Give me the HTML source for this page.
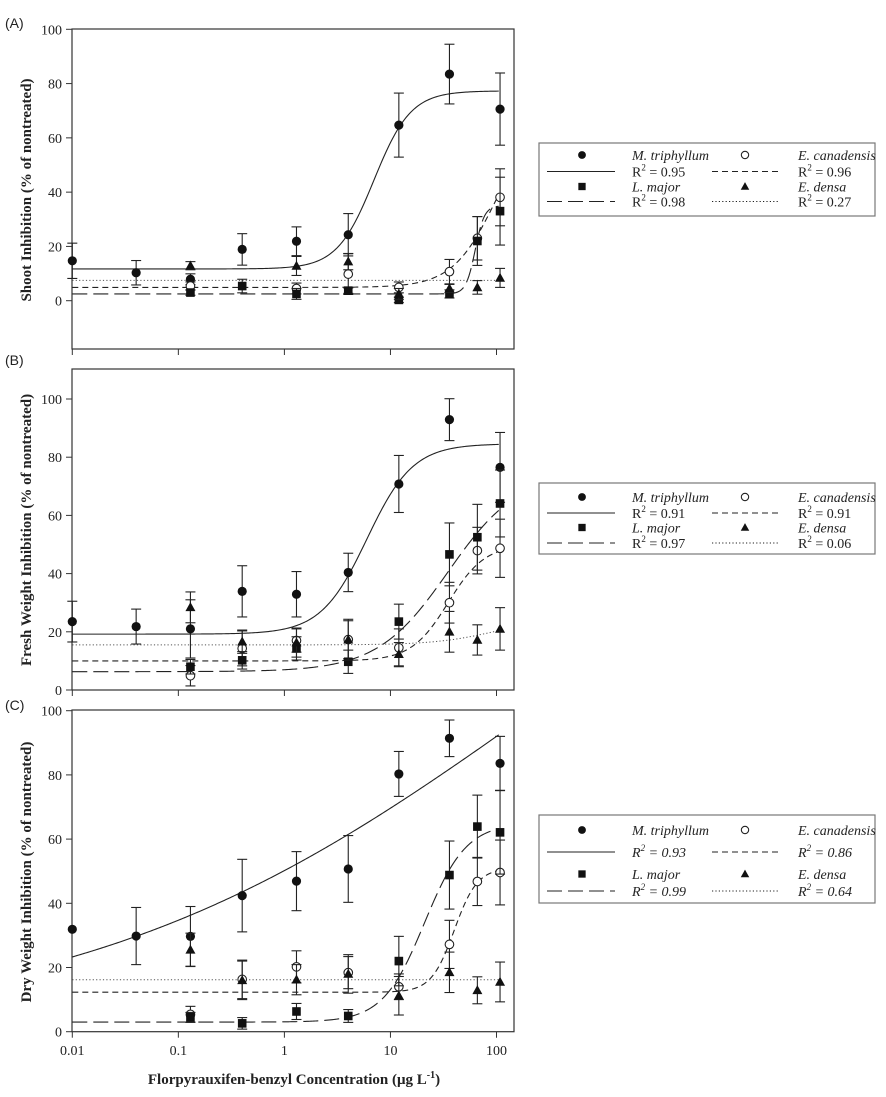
<!DOCTYPE html>
<html><head><meta charset="utf-8"><style>
html,body{margin:0;padding:0;background:#fff;}
svg text{font-family:"Liberation Serif",serif;fill:#222;}
</style></head><body>
<svg id="fig" width="886" height="1092" viewBox="0 0 886 1092" xmlns="http://www.w3.org/2000/svg"></svg>
<script>
// ---- data ----
const conc = [0.01,0.04,0.13,0.4,1.3,4,12,36,66,108];
const xTickVals = [0.01,0.1,1,10,100];
const xTickLabels = ["0.01","0.1","1","10","100"];
const yTickVals = [0,20,40,60,80,100];
const species = ["M. triphyllum","E. canadensis","L. major","E. densa"];

// Panel A (shoot inhibition)
const aMtri = [14.7,10.3,7.9,18.9,21.9,24.3,64.7,83.5,null,70.6];
const aMtriErr = [6.5,4.5,2,5.8,5.3,7.8,11.8,11,null,13.3];
const aEcan = [null,null,5.4,null,4.5,9.8,4.9,10.7,23,38.1];
const aEcanErr = [null,null,1.5,null,2,7.5,2,4.5,8,10.5];
const aLmaj = [null,null,3,5.4,2.5,3.7,0.3,2.5,22,33];
const aLmajErr = [null,null,1,2.5,2,1,1,1.5,9,12.5];
const aEden = [null,null,12.9,null,12.8,14.4,2.5,4.5,4.9,8.4];
const aEdenErr = [null,null,1.5,null,3.5,3,2,1.5,2.5,3.5];
const aFits = [[11.7,77.3,7,2.5],[4.9,70,100,2.1],[2.5,35,63,10],[7.5,7.5,1,1]];
const aR2 = ["0.95","0.96","0.98","0.27"];

// Panel B (fresh weight)
const bMtri = [23.5,21.8,21,33.9,32.9,40.4,70.8,92.9,null,76.5];
const bMtriErr = [7,6,10,8.8,7.8,6.6,9.8,7.2,null,12];
const bEcan = [null,null,4.9,14.3,17,17.3,14.5,30,47.9,48.7];
const bEcanErr = [null,null,3.5,6,4,6.5,6.5,7,8,10];
const bLmaj = [null,null,8,10.2,14.3,9.7,23.5,46.6,52.5,64.1];
const bLmajErr = [null,null,2.5,3,4,4,6,10.8,11.3,11.5];
const bEden = [null,null,28.4,16.6,16.3,17.3,12.3,20,17.2,21];
const bEdenErr = [null,null,5.3,4,5,7,4,7,5.2,7.3];
const bFits = [[19.2,84.6,6,2],[10,50,35,2.5],[6.3,75,35,1.3],[15.5,25,100,1.5]];
const bR2 = ["0.91","0.91","0.97","0.06"];

// Panel C (dry weight)
const cMtri = [31.9,29.8,29.7,42.4,46.9,50.7,80.3,91.4,null,83.6];
const cMtriErr = [0,8.9,9.3,11.3,9.2,10.4,7,5.7,null,8.4];
const cEcan = [null,null,5.4,16.3,20.2,18.4,14,27.2,46.8,49.6];
const cEcanErr = [null,null,2.5,6,5,5,4,7.5,7.5,10.1];
const cLmaj = [null,null,4.5,2.6,6.3,4.9,22,48.8,63.9,62.1];
const cLmajErr = [null,null,1.5,1.8,2.5,2,7.7,10.6,9.8,13];
const cEden = [null,null,25.5,16,16.2,18,11.2,18.5,12.9,15.5];
const cEdenErr = [null,null,5.2,6,4.7,6,6,6.3,4.2,6.2];
const cFits = [[0,200,221,0.2026],[12.3,51,40,4],[3,65,21,2.2],[16.2,16.2,1,1]];
const cR2 = ["0.93","0.86","0.99","0.64"];

// ---- drawing ----
const NS="http://www.w3.org/2000/svg";
const svg=document.getElementById('fig');
function mk(tag,attrs,parent){const e=document.createElementNS(NS,tag);for(const k in attrs)e.setAttribute(k,attrs[k]);(parent||svg).appendChild(e);return e;}
const X0=72.3, XD=106.05;
function xs(c){return X0+(Math.log10(c)+2)*XD;}
function fitY(p,x){return p[0]+(p[1]-p[0])/(1+Math.pow(p[2]/x,p[3]));}
const dashes=["", "6,4", "15,6", "1.2,2.2"];

const panels=[
 {key:"a",label:"(A)",labY:23,top:29,bot:349,y0:300.7,y100:29.3,title:"Shoot Inhibition (% of nontreated)",tY:190,
  series:[[aMtri,aMtriErr],[aEcan,aEcanErr],[aLmaj,aLmajErr],[aEden,aEdenErr]],fits:aFits,r2:aR2,leg:{top:143,bot:216,rows:[155,171.5,186.5,201.5]},italR:false},
 {key:"b",label:"(B)",labY:360,top:369,bot:690,y0:690,y100:399,title:"Fresh Weight Inhibition (% of nontreated)",tY:530,
  series:[[bMtri,bMtriErr],[bEcan,bEcanErr],[bLmaj,bLmajErr],[bEden,bEdenErr]],fits:bFits,r2:bR2,leg:{top:483,bot:554,rows:[497,513,527.5,543]},italR:false},
 {key:"c",label:"(C)",labY:705,top:710,bot:1031.7,y0:1031.7,y100:710.7,title:"Dry Weight Inhibition (% of nontreated)",tY:872,
  series:[[cMtri,cMtriErr],[cEcan,cEcanErr],[cLmaj,cLmajErr],[cEden,cEdenErr]],fits:cFits,r2:cR2,leg:{top:815,bot:903,rows:[830,852,874,891]},italR:true}
];

function marker(g,i,x,y,scale){
  const s=scale||1;let m;
  if(i===0){m=mk('circle',{cx:x,cy:y,r:4.6*s,fill:'#111'},g);}
  else if(i===1){m=mk('circle',{cx:x,cy:y,r:4.3*s,fill:'#fff',stroke:'#222','stroke-width':1.1},g);}
  else if(i===2){m=mk('rect',{x:x-4.3*s,y:y-4.3*s,width:8.6*s,height:8.6*s,fill:'#111'},g);}
  else {m=mk('polygon',{points:`${x},${y-5.2*s} ${x-5*s},${y+3.8*s} ${x+5*s},${y+3.8*s}`,fill:'#111'},g);}
  return m;
}

panels.forEach(P=>{
  const ys=v=>P.y0-v*(P.y0-P.y100)/100;
  const g=mk('g',{});
  
  
  const lab=mk('text',{x:5,y:P.labY+5,'font-size':14,style:'font-family:"Liberation Sans",sans-serif'},g);
  lab.textContent=P.label;
  
  
  const box=mk('rect',{x:72,y:P.top,width:442,height:P.bot-P.top,fill:'none',stroke:'#333','stroke-width':1.2},g);
  
  
  yTickVals.forEach(v=>{
    const y=ys(v);
    mk('line',{x1:66,x2:72,y1:y,y2:y,stroke:'#333','stroke-width':1},g);
    const t=mk('text',{x:62,y:y+5,'font-size':14,'text-anchor':'end'},g);
    t.textContent=v;
    
    
  });
  xTickVals.forEach((v,k)=>{
    const x=xs(v);
    mk('line',{x1:x,x2:x,y1:P.bot,y2:P.bot+6,stroke:'#333','stroke-width':1},g);
    if(P.key==='c'){
      const t=mk('text',{x:x,y:1055,'font-size':14,'text-anchor':'middle'},g);
      t.textContent=xTickLabels[k];
      
      
    }
  });
  const yt=mk('text',{x:0,y:0,'font-size':15,'font-weight':'bold','text-anchor':'middle',transform:`translate(31,${P.tY}) rotate(-90)`},g);
  yt.textContent=P.title;
  
  
  P.fits.forEach((p,i)=>{
    let d="";
    for(let k=0;k<=300;k++){const lx=-2+k*(Math.log10(105)+2)/300;const x=Math.pow(10,lx);
      d+=(k?"L":"M")+xs(x).toFixed(2)+","+ys(fitY(p,x)).toFixed(2);}
    const path=mk('path',{d:d,fill:'none',stroke:i===3?'#555':'#222','stroke-width':i===3?1:1.1,'stroke-dasharray':dashes[i]},g);
    
    
  });
  P.series.forEach((s,i)=>{
    const vals=s[0],errs=s[1];
    vals.forEach((v,k)=>{
      if(v===null)return;
      const x=xs(conc[k]),e=errs[k]||0;
      if(e>0){
        mk('line',{x1:x,x2:x,y1:ys(v-e),y2:ys(v+e),stroke:'#222','stroke-width':1.1},g);
        mk('line',{x1:x-5,x2:x+5,y1:ys(v-e),y2:ys(v-e),stroke:'#222','stroke-width':1.1},g);
        mk('line',{x1:x-5,x2:x+5,y1:ys(v+e),y2:ys(v+e),stroke:'#222','stroke-width':1.1},g);
      }
      const m=marker(g,i,x,ys(v));
      
      
    });
  });
  const L=P.leg;
  const lg=mk('g',{},svg);
  
  
  mk('rect',{x:539,y:L.top,width:336,height:L.bot-L.top,fill:'#fff',stroke:'#777','stroke-width':1.2},lg);
  const cols=[[582,547,615,632],[745,712,780,798]];
  [0,1,2,3].forEach(i=>{
    const c=cols[i%2], r=i<2?0:2;
    marker(lg,i,c[0],L.rows[r],0.85);
    mk('line',{x1:c[1],x2:c[2],y1:L.rows[r+1],y2:L.rows[r+1],stroke:'#222','stroke-width':1.1,'stroke-dasharray':dashes[i]},lg);
    const n=mk('text',{x:c[3],y:L.rows[r]+5,'font-size':14,'font-style':'italic'},lg);
    n.textContent=species[i];
    
    
    const rt=mk('text',{x:c[3],y:L.rows[r+1]+5,'font-size':14,'font-style':P.italR?'italic':'normal'},lg);
    rt.innerHTML='R<tspan dy="-6" font-size="9">2</tspan><tspan dy="6"> = '+P.r2[i]+'</tspan>';
    
    
  });
});
const xt=mk('text',{x:294,y:1084,'font-size':15,'font-weight':'bold','text-anchor':'middle'});
xt.innerHTML='Florpyrauxifen-benzyl Concentration (μg L<tspan dy="-6" font-size="10">-1</tspan><tspan dy="6">)</tspan>';


</script>
</body></html>
